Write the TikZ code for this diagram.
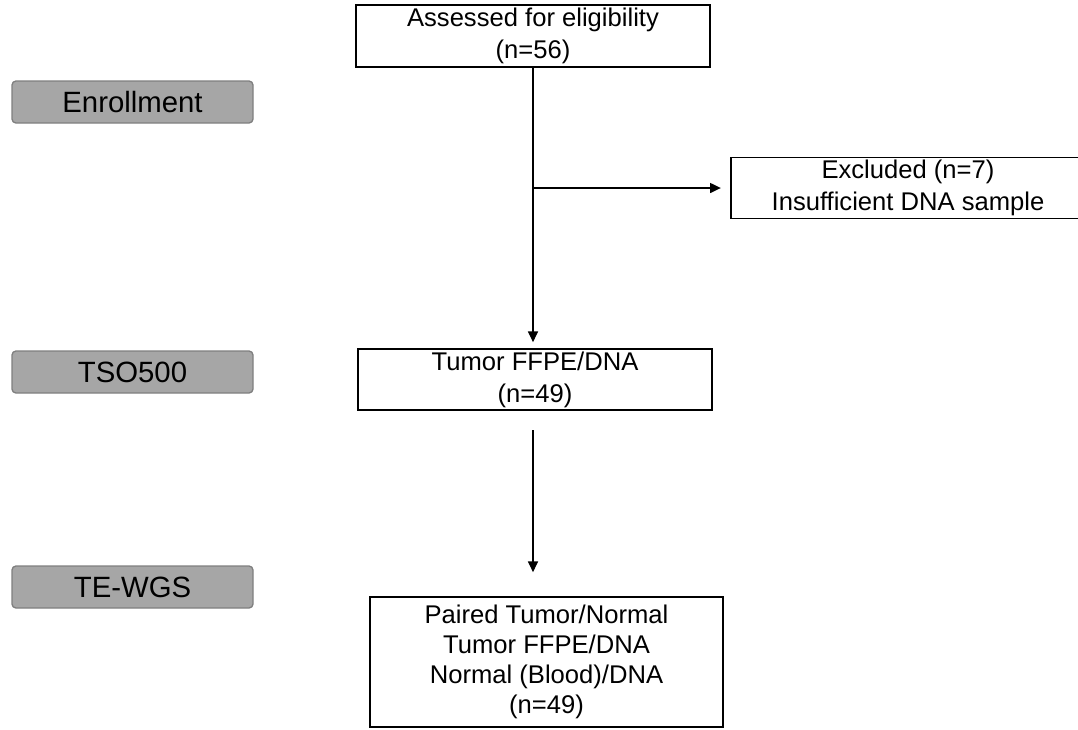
\documentclass[tikz,border=0pt]{standalone}
\usepackage{fontspec}
\setmainfont{Liberation Sans}
\usepackage{xcolor}
\usetikzlibrary{arrows.meta, positioning}

\definecolor{stagefill}{HTML}{A6A6A6}
\definecolor{stageline}{HTML}{7F7F7F}

\begin{document}
\begin{tikzpicture}[x=0.75pt, y=-0.75pt,
  box/.style={draw=black, line width=1.3pt, fill=white, inner sep=0pt, align=center,
    font=\fontsize{19.2}{24}\selectfont},
  stage/.style={draw=stageline, line width=1pt, fill=stagefill, rounded corners=3pt,
    minimum width=180.75pt, minimum height=31.5pt, inner sep=0pt,
    font=\fontsize{22}{26}\selectfont},
  arr/.style={line width=0.9pt, -{Triangle[length=8pt, width=7.5pt]}}]
\useasboundingbox (0,0) rectangle (1078,729);

% Stages (left)
\node[stage] (enroll) at (132.5,102) {Enrollment};
\node[stage] (tso) at (132.5,372) {TSO500};
\node[stage] (tewgs) at (132.5,587) {TE-WGS};

% Flow boxes
\node[box, minimum width=265.5pt, minimum height=46.5pt] (assess) at (533,36)
  {Assessed for eligibility\\(n=56)};
\node[box, minimum width=265.5pt, minimum height=45.75pt] (excl) at (908,188)
  {Excluded (n=7)\\Insufficient DNA sample};
\node[box, minimum width=265.5pt, minimum height=45.75pt] (tumor) at (535,379.5)
  {Tumor FFPE/DNA\\(n=49)};
\node[box, minimum width=264.75pt, minimum height=97.5pt, font=\fontsize{19.2}{22.5}\selectfont] (paired) at (546.5,662)
  {Paired Tumor/Normal\\Tumor FFPE/DNA\\Normal (Blood)/DNA\\(n=49)};

% Connectors
\coordinate (split) at (533,188);
\coordinate (gapA) at (533,430);
\draw[arr, shorten >=4.5pt] (assess.south) -- (assess.south |- tumor.north);
\draw[arr, shorten >=7pt] (split) -- (split -| excl.west);
\draw[arr, shorten >=18pt] (gapA) -- (gapA |- paired.north);
\end{tikzpicture}
\end{document}
